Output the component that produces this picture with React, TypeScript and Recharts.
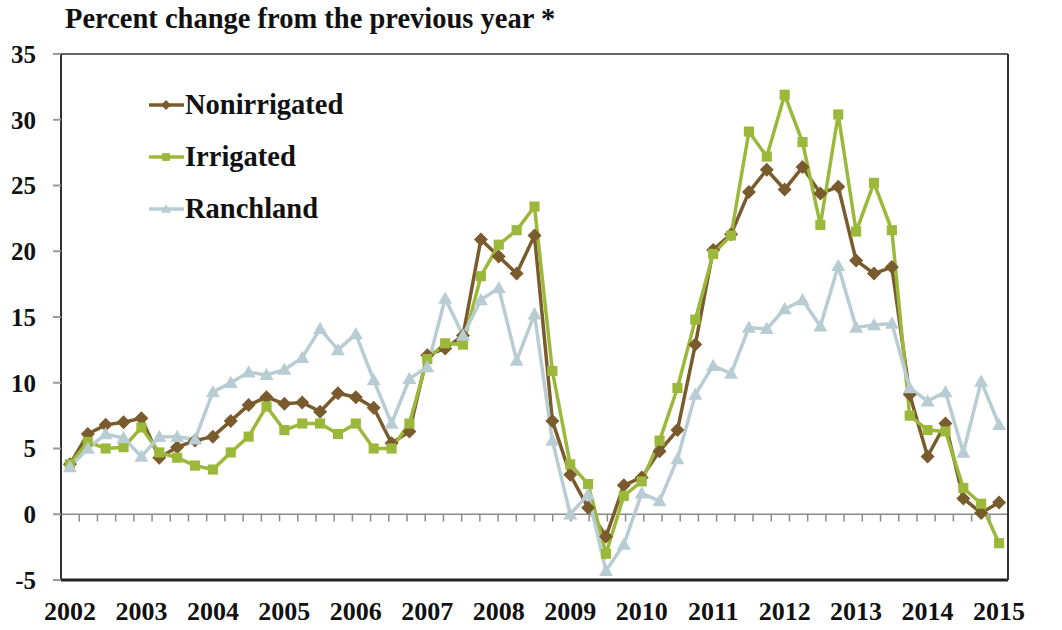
import { LineChart, Line, XAxis, YAxis, ReferenceLine, Legend } from "recharts";

const years = ["2002", "2003", "2004", "2005", "2006", "2007", "2008", "2009", "2010", "2011", "2012", "2013", "2014", "2015"];

// quarterly, 2002 Q1 .. 2015 Q1
const nonirrigated = [
  3.8, 6.1, 6.8, 7.0, 7.3, 4.3, 5.1, 5.6, 5.9, 7.1,
  8.3, 8.9, 8.4, 8.5, 7.8, 9.2, 8.9, 8.1, 5.4, 6.3,
  12.1, 12.6, 13.6, 20.9, 19.6, 18.3, 21.2, 7.1, 3.0, 0.5,
  -1.7, 2.2, 2.8, 4.8, 6.4, 12.9, 20.1, 21.3, 24.5, 26.2,
  24.7, 26.4, 24.4, 24.9, 19.3, 18.3, 18.8, 9.1, 4.4, 6.9,
  1.2, 0.1, 0.9,
];
const irrigated = [
  3.8, 5.5, 5.0, 5.1, 6.6, 4.7, 4.3, 3.7, 3.4, 4.7,
  5.9, 8.2, 6.4, 6.9, 6.9, 6.1, 6.9, 5.0, 5.0, 6.9,
  11.8, 13.0, 12.9, 18.1, 20.5, 21.6, 23.4, 10.9, 3.8, 2.3,
  -3.0, 1.4, 2.5, 5.6, 9.6, 14.8, 19.8, 21.2, 29.1, 27.2,
  31.9, 28.3, 22.0, 30.4, 21.5, 25.2, 21.6, 7.5, 6.4, 6.3,
  2.0, 0.8, -2.2,
];
const ranchland = [
  3.6, 5.0, 6.1, 5.8, 4.4, 5.9, 5.9, 5.7, 9.3, 10.0,
  10.8, 10.6, 11.0, 11.9, 14.1, 12.5, 13.7, 10.2, 6.9, 10.3,
  11.2, 16.4, 13.6, 16.3, 17.2, 11.7, 15.2, 5.6, 0.0, 1.5,
  -4.3, -2.3, 1.6, 1.0, 4.2, 9.1, 11.3, 10.7, 14.2, 14.1,
  15.6, 16.3, 14.3, 18.9, 14.2, 14.4, 14.5, 9.6, 8.6, 9.3,
  4.7, 10.1, 6.8,
];
const yTicks = [-5, 0, 5, 10, 15, 20, 25, 30, 35];

const quarters = years.flatMap((y, i) =>
  i === years.length - 1 ? [`${y} Q1`] : [1, 2, 3, 4].map((q) => `${y} Q${q}`)
);
const data = quarters.map((q, i) => ({
  q,
  Nonirrigated: nonirrigated[i],
  Irrigated: irrigated[i],
  Ranchland: ranchland[i],
}));

const series = [
  { key: "Nonirrigated", color: "#7a5b2d", shape: "diamond" },
  { key: "Irrigated", color: "#9cb83a", shape: "square" },
  { key: "Ranchland", color: "#b8ccd3", shape: "triangle" },
];

const W = 1062;
const H = 630;
const LEFT_W = 61;
const RIGHT_W = 54;
const plotW = W - LEFT_W - RIGHT_W;
const halfBand = plotW / (quarters.length * 2);
const font = "'Liberation Serif', 'Times New Roman', serif";

function Marker({ shape, cx, cy, color, r }: any) {
  if (cx == null || cy == null) return null;
  if (shape === "diamond") {
    return <polygon points={`${cx},${cy - r} ${cx + r},${cy} ${cx},${cy + r} ${cx - r},${cy}`} fill={color} />;
  }
  if (shape === "square") {
    const s = r * 0.78;
    return <rect x={cx - s} y={cy - s} width={s * 2} height={s * 2} fill={color} />;
  }
  return <polygon points={`${cx},${cy - r} ${cx + r},${cy + r * 0.75} ${cx - r},${cy + r * 0.75}`} fill={color} />;
}

function LegendBox() {
  return (
    <div style={{ fontFamily: font, fontWeight: 700, fontSize: 28.5, color: "#111" }}>
      {series.map((s) => (
        <div key={s.key} style={{ display: "flex", alignItems: "center", height: 52 }}>
          <svg width={37} height={16} style={{ marginRight: 0 }}>
            <line x1={1} y1={8} x2={36} y2={8} stroke={s.color} strokeWidth={3.5} />
            <Marker shape={s.shape} cx={18} cy={8} color={s.color} r={5} />
          </svg>
          <span>{s.key}</span>
        </div>
      ))}
    </div>
  );
}

export default function App() {
  const tickStyle = { fontSize: 25, fontWeight: 700, fill: "#111", fontFamily: font };
  return (
    <div style={{ position: "absolute", left: 0, top: 0, width: W, height: H, background: "#fff" }}>
      <div
        style={{
          position: "absolute",
          left: 65,
          top: 3,
          fontFamily: font,
          fontWeight: 700,
          fontSize: 28.5,
          color: "#111",
          whiteSpace: "nowrap",
        }}
      >
        Percent change from the previous year *
      </div>
      <LineChart width={W} height={H} data={data} margin={{ top: 54, right: 0, bottom: 0, left: 0 }}>
        <XAxis
          dataKey="q"
          interval={3}
          padding={{ left: halfBand, right: halfBand }}
          tickFormatter={(v: string) => v.slice(0, 4)}
          tickLine={false}
          tickSize={0}
          tickMargin={22}
          height={50}
          axisLine={{ stroke: "#222", strokeWidth: 3 }}
          tick={{ ...tickStyle, fontSize: 26 }}
        />
        <XAxis xAxisId="num" type="number" domain={[0, quarters.length]} hide allowDataOverflow />
        <YAxis
          yAxisId="left"
          width={LEFT_W}
          domain={[-5, 35]}
          ticks={yTicks}
          tickSize={8}
          tickMargin={17}
          axisLine={{ stroke: "#333", strokeWidth: 2 }}
          tickLine={{ stroke: "#999", strokeWidth: 2 }}
          tick={tickStyle}
        />
        <YAxis
          yAxisId="right"
          orientation="right"
          width={RIGHT_W}
          domain={[-5, 35]}
          ticks={yTicks}
          tickSize={9}
          tickMargin={16}
          axisLine={{ stroke: "#333", strokeWidth: 2 }}
          tickLine={{ stroke: "#999", strokeWidth: 2 }}
          tick={{ ...tickStyle, textAnchor: "start" }}
        />
        <ReferenceLine yAxisId="left" y={35} stroke="#666" strokeWidth={2} />
        <ReferenceLine yAxisId="left" y={0} stroke="#8a8a8a" strokeWidth={1.5} />
        {quarters.slice(1).map((q, i) => (
          <ReferenceLine
            key={q}
            xAxisId="num"
            yAxisId="left"
            segment={[
              { x: i + 1, y: 0 },
              { x: i + 1, y: -0.55 },
            ]}
            stroke="#8a8a8a"
            strokeWidth={1.5}
          />
        ))}
        {series.map((s) => (
          <Line
            key={s.key}
            yAxisId="left"
            dataKey={s.key}
            stroke={s.color}
            strokeWidth={3.5}
            isAnimationActive={false}
            activeDot={false}
            dot={(p: any) => <Marker key={`${s.key}-${p.index}`} shape={s.shape} cx={p.cx} cy={p.cy} color={s.color} r={s.shape === "square" ? 6.5 : 7} />}
          />
        ))}
        <Legend
          layout="vertical"
          align="center"
          verticalAlign="middle"
          wrapperStyle={{ top: 79, left: 148, width: "auto", height: "auto" }}
          content={() => <LegendBox />}
        />
      </LineChart>
    </div>
  );
}
